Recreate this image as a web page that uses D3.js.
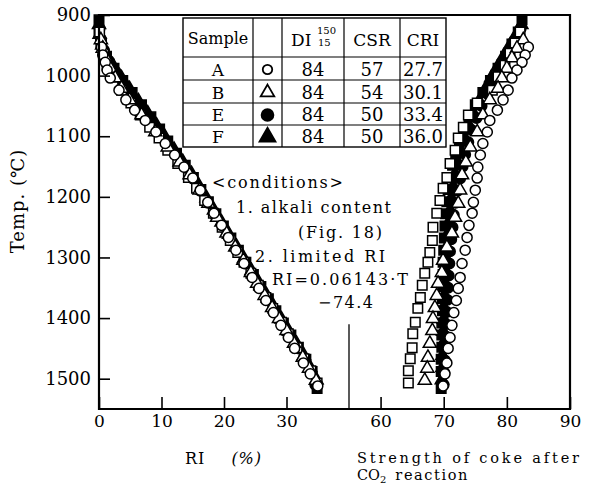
<!DOCTYPE html>
<html><head><meta charset="utf-8">
<script src="https://cdn.jsdelivr.net/npm/d3@7"></script>
<style>
body{margin:0;background:#fff}
svg text{font-family:"DejaVu Serif","Liberation Serif",serif;fill:#000}
</style></head><body>
<svg id="chart" width="589" height="486"></svg>
<script>
// ---- measured data: temperature (℃), reaction index RI (%), strength after CO2 reaction ----
// Sample A (open circle)
const tempsA = [953,966,978,991,1004,1024,1040,1057,1074,1093,1112,1131,1151,1169,1189,1209,1227,1247,1267,1288,1310,1333,1351,1371,1391,1412,1432,1450,1474,1492,1512];
const riA    = [0.4,0.6,1.0,1.3,1.8,3.2,4.3,5.7,7.4,9.1,10.6,12.1,13.6,15.0,16.2,17.4,18.4,19.6,20.7,21.9,23.2,24.5,25.6,26.7,27.9,29.1,30.3,31.3,32.7,33.8,35.0];
const strA   = [83.4,82.9,82.4,81.6,80.8,80.2,79.4,78.5,77.3,76.9,76.2,75.8,75.4,75.3,75.0,74.7,74.5,74.0,73.7,73.4,72.9,72.6,72.3,72.0,71.6,71.3,71.0,70.7,70.5,70.2,69.9];

// Sample B (open triangle)
const tempsB = [941,955,971,988,1004,1021,1040,1065,1093,1118,1143,1164,1189,1211,1234,1260,1283,1305,1325,1343,1363,1383,1401,1421,1442,1465,1483,1503];
const riB    = [0.3,0.6,1.1,1.8,2.6,3.6,4.9,6.8,9.0,11.0,12.9,14.5,16.1,17.5,18.9,20.4,21.8,23.1,24.3,25.3,26.5,27.7,28.8,30.0,31.2,32.6,33.6,34.7];
const strB   = [82.6,81.6,80.8,80.0,79.2,78.6,77.3,76.2,75.3,74.2,73.5,72.9,72.6,72.3,71.8,71.3,70.5,69.9,69.7,69.1,68.9,68.6,68.3,68.2,67.8,67.5,67.4,67.0];

// Sample E (filled circle)
const tempsE = [922,940,958,976,994,1012,1030,1050,1070,1090,1110,1130,1150,1170,1190,1210,1230,1250,1270,1290,1310,1330,1350,1370,1390,1410,1430,1450,1470,1490,1510];
const riE    = [0.1,0.3,0.8,1.6,2.7,3.9,5.2,6.6,8.0,9.5,10.9,12.3,13.7,15.0,16.2,17.4,18.6,19.8,21.0,22.2,23.4,24.6,25.8,27.0,28.2,29.4,30.6,31.8,33.0,34.0,34.6];
const strE   = [82.2,81.4,80.5,79.6,78.7,77.8,76.9,76.0,75.2,74.5,73.9,73.4,73.0,72.6,72.2,71.9,71.6,71.4,71.2,71.0,70.9,70.8,70.7,70.6,70.5,70.4,70.3,70.3,70.2,70.1,70.0];

// Sample F (filled triangle)
const tempsF = [916,932,950,968,986,1004,1022,1042,1062,1082,1102,1122,1142,1162,1182,1202,1222,1242,1262,1282,1302,1322,1342,1362,1382,1402,1422,1442,1462,1482,1502];
const riF    = [0.0,0.1,0.5,1.3,2.4,3.6,4.9,6.3,7.8,9.2,10.6,12.0,13.4,14.8,16.0,17.2,18.4,19.6,20.8,22.0,23.2,24.4,25.6,26.8,28.0,29.2,30.4,31.6,32.8,33.8,34.8];
const strF   = [82.3,81.5,80.5,79.5,78.5,77.5,76.6,75.6,74.7,74.0,73.3,72.7,72.2,71.8,71.5,71.2,71.0,70.8,70.6,70.5,70.4,70.3,70.2,70.1,70.0,70.0,69.9,69.9,69.8,69.8,69.7];

// Open-square series
const tempsS = [928,946,963,983,1002,1024,1045,1065,1085,1103,1123,1145,1168,1186,1206,1227,1250,1272,1292,1308,1326,1346,1366,1384,1407,1426,1449,1467,1487,1507];
const riS    = [0.1,0.3,0.7,1.3,2.3,3.6,5.1,6.6,8.1,9.6,11.0,12.6,14.3,15.6,16.9,18.3,19.7,21.0,22.2,23.2,24.3,25.5,26.7,27.8,29.2,30.3,31.7,32.8,33.9,34.9];
const strS   = [82.1,81.3,80.5,79.7,78.6,77.7,75.3,73.9,73.1,72.3,71.8,71.0,70.5,69.9,69.4,68.9,68.3,68.2,67.8,67.5,67.0,66.6,66.3,65.9,65.5,65.1,65.0,64.7,64.4,64.4];

// Filled-square series
const tempsQ = [908,928,948,968,988,1008,1028,1048,1068,1088,1108,1128,1148,1168,1188,1208,1228,1248,1268,1288,1308,1328,1348,1368,1388,1408,1428,1448,1468,1488,1516];
const riQ    = [0.0,0.0,0.4,1.2,2.4,3.8,5.3,6.8,8.3,9.7,11.0,12.4,13.8,15.1,16.3,17.5,18.7,19.9,21.1,22.3,23.5,24.7,25.9,27.1,28.3,29.5,30.7,31.9,33.1,34.1,34.9];
const strQ   = [82.4,81.8,80.8,79.8,78.6,77.4,76.2,75.0,74.0,73.2,72.5,71.9,71.4,71.0,70.7,70.5,70.3,70.2,70.1,70.0,69.9,69.9,69.9,69.8,69.8,69.7,69.7,69.7,69.6,69.6,69.6];

// ---- axis ticks ----
const tempTicks = [900,1000,1100,1200,1300,1400,1500];
const riTicks   = [0,10,20,30];
const strTicks  = [60,70,80,90];

// ---- legend table ----
const tableSamples = ["A","B","E","F"];
const tableDI  = ["84","84","84","84"];
const tableCSR = ["57","54","50","50"];
const tableCRI = ["27.7","30.1","33.4","36.0"];

// ---- layout ----
const svg = d3.select("#chart");
const plotL = 99, plotR = 570, plotT = 15, plotB = 409, plotSplit = 349;

const y  = d3.scaleLinear().domain([900,1550]).range([plotT,plotB]);
const xR = d3.scaleLinear().domain([0,40]).range([plotL,plotSplit]);
const xS = d3.scaleLinear().domain([55,90]).range([plotSplit,plotR]);

const zip = (t,v) => t.map((d,i) => [d, v[i]]);

const series = [
  {temps:tempsQ, ri:riQ, str:strQ, type:d3.symbolSquare,   size:90, fill:"#000"},
  {temps:tempsF, ri:riF, str:strF, type:d3.symbolTriangle, size:75, fill:"#000"},
  {temps:tempsE, ri:riE, str:strE, type:d3.symbolCircle,   size:85, fill:"#000"},
  {temps:tempsS, ri:riS, str:strS, type:d3.symbolSquare,   size:90, fill:"#fff"},
  {temps:tempsB, ri:riB, str:strB, type:d3.symbolTriangle, size:75, fill:"#fff"},
  {temps:tempsA, ri:riA, str:strA, type:d3.symbolCircle,   size:80, fill:"#fff"}
];

const marks = svg.append("g");
series.forEach(s => {
  const sym = d3.symbol().type(s.type).size(s.size)();
  const g = marks.append("g");
  g.selectAll("path.ri").data(zip(s.temps, s.ri)).join("path")
    .attr("class","ri").attr("d", sym)
    .attr("transform", d => `translate(${xR(d[1])},${y(d[0])})`)
    .attr("fill", s.fill).attr("stroke","#000").attr("stroke-width",1.5);
  g.selectAll("path.st").data(zip(s.temps, s.str)).join("path")
    .attr("class","st").attr("d", sym)
    .attr("transform", d => `translate(${xS(d[1])},${y(d[0])})`)
    .attr("fill", s.fill).attr("stroke","#000").attr("stroke-width",1.5);
});

// ---- axes ----
const yAxis = svg.append("g").attr("transform",`translate(${plotL},0)`)
  .call(d3.axisLeft(y).tickValues(tempTicks).tickSize(-11).tickPadding(8).tickFormat(d3.format("d")));
yAxis.select(".domain").remove();
yAxis.selectAll("text").attr("font-size",18);
yAxis.selectAll("line").attr("stroke-width",1.6);

const xAxisR = svg.append("g").attr("transform",`translate(0,${plotB})`)
  .call(d3.axisBottom(xR).tickValues(riTicks).tickSize(-12).tickPadding(6));
const xAxisS = svg.append("g").attr("transform",`translate(0,${plotB})`)
  .call(d3.axisBottom(xS).tickValues(strTicks).tickSize(-12).tickPadding(6));
[xAxisR, xAxisS].forEach(a => {
  a.select(".domain").remove();
  a.selectAll("text").attr("font-size",17);
  a.selectAll("line").attr("stroke-width",1.6);
});

// ---- frame ----
svg.append("path")
  .attr("d",`M${plotL},${plotT}H${plotR}V${plotB}H${plotL}Z`)
  .attr("fill","none").attr("stroke","#000").attr("stroke-width",2.2);
svg.append("line")
  .attr("x1",plotSplit).attr("x2",plotSplit).attr("y1",y(1410)).attr("y2",plotB)
  .attr("stroke","#000").attr("stroke-width",1.3);

// ---- axis titles ----
svg.append("text").attr("transform","translate(24,201) rotate(-90)")
  .attr("text-anchor","middle").attr("font-size",18).attr("letter-spacing",1)
  .text("Temp.  (℃)");
const riLab = svg.append("text").attr("x",185).attr("y",464).attr("font-size",16);
riLab.append("tspan").attr("letter-spacing",1).text("RI");
riLab.append("tspan").attr("dx",26).attr("font-style","italic").attr("letter-spacing",1).text("(%)");
svg.append("text").attr("x",357).attr("y",463).attr("font-size",14.5)
  .attr("textLength",222).attr("lengthAdjust","spacing").text("Strength of coke after");
const co = svg.append("text").attr("x",357).attr("y",480).attr("font-size",14.5);
co.append("tspan").text("CO");
co.append("tspan").attr("font-size",10).attr("dy",3).text("2");
co.append("tspan").attr("dy",-3).attr("dx",9).attr("letter-spacing",1.6).text("reaction");

// ---- conditions note ----
const note = [
  {x:212, y:188, w:131, t:"<conditions>"},
  {x:236, y:213, w:155, t:"1. alkali content"},
  {x:298, y:238, w:84,  t:"(Fig. 18)"},
  {x:255, y:262, w:130, t:"2. limited RI"},
  {x:272, y:285, w:136, t:"RI=0.06143·T"},
  {x:318, y:308, w:55,  t:"−74.4"}
];
svg.append("g").selectAll("text").data(note).join("text")
  .attr("x",d=>d.x).attr("y",d=>d.y).attr("font-size",16)
  .attr("textLength",d=>d.w).attr("lengthAdjust","spacing")
  .text(d=>d.t);

// ---- sample table ----
const colX = [183,253,282,344,400,446];
const rowY = [18,57,80,103,125,147];
const tbl = svg.append("g");
tbl.append("rect").attr("x",colX[0]).attr("y",rowY[0])
  .attr("width",colX[5]-colX[0]).attr("height",rowY[5]-rowY[0])
  .attr("fill","#fff").attr("stroke","#000").attr("stroke-width",1.4);
colX.slice(1,5).forEach(cx => tbl.append("line").attr("x1",cx).attr("x2",cx)
  .attr("y1",rowY[0]).attr("y2",rowY[5]).attr("stroke","#000").attr("stroke-width",1.2));
rowY.slice(1,5).forEach(ry => tbl.append("line").attr("x1",colX[0]).attr("x2",colX[5])
  .attr("y1",ry).attr("y2",ry).attr("stroke","#000").attr("stroke-width",1.2));
const mid = i => (colX[i]+colX[i+1])/2;
tbl.append("text").attr("x",mid(0)).attr("y",44).attr("text-anchor","middle").attr("font-size",16).text("Sample");
tbl.append("text").attr("x",291).attr("y",46).attr("font-size",17).text("DI");
tbl.append("text").attr("x",317).attr("y",34).attr("font-size",10).text("150");
tbl.append("text").attr("x",318).attr("y",46).attr("font-size",10).text("15");
tbl.append("text").attr("x",mid(3)).attr("y",46).attr("text-anchor","middle").attr("font-size",17).text("CSR");
tbl.append("text").attr("x",mid(4)).attr("y",46).attr("text-anchor","middle").attr("font-size",17).text("CRI");
const legendSyms = [
  {type:d3.symbolCircle, size:70, fill:"#fff"},
  {type:d3.symbolTriangle, size:80, fill:"#fff"},
  {type:d3.symbolCircle, size:110, fill:"#000"},
  {type:d3.symbolTriangle, size:110, fill:"#000"}
];
tableSamples.forEach((s,i) => {
  const cy = (rowY[i+1]+rowY[i+2])/2;
  const base = cy + 7;
  tbl.append("text").attr("x",mid(0)).attr("y",base).attr("text-anchor","middle").attr("font-size",17).text(s);
  tbl.append("path").attr("d", d3.symbol().type(legendSyms[i].type).size(legendSyms[i].size)())
    .attr("transform",`translate(${mid(1)},${cy+1})`)
    .attr("fill",legendSyms[i].fill).attr("stroke","#000").attr("stroke-width",1.8);
  tbl.append("text").attr("x",mid(2)).attr("y",base).attr("text-anchor","middle").attr("font-size",18).text(tableDI[i]);
  tbl.append("text").attr("x",mid(3)).attr("y",base).attr("text-anchor","middle").attr("font-size",18).text(tableCSR[i]);
  tbl.append("text").attr("x",mid(4)).attr("y",base).attr("text-anchor","middle").attr("font-size",18).text(tableCRI[i]);
});
</script>
</body></html>
